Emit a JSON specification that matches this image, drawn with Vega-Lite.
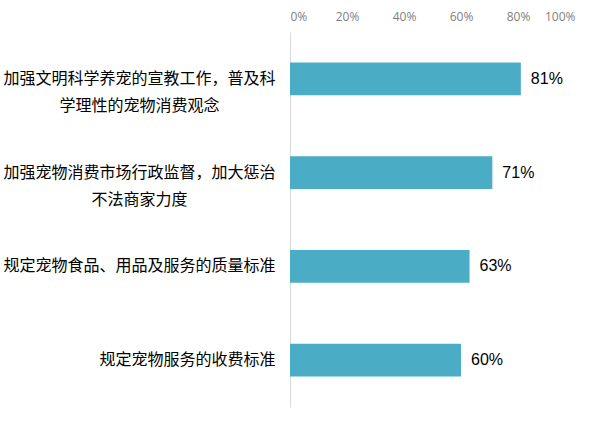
{
  "$schema": "https://vega.github.io/schema/vega-lite/v6.json",
  "autosize": {"type": "none"},
  "padding": {"left": 290, "top": 32, "right": 25, "bottom": 35},
  "width": 285,
  "height": 375,
  "background": "white",
  "data": {
    "values": [
      {"item": "加强文明科学养宠的宣教工作，普及科|学理性的宠物消费观念", "share": 0.81},
      {"item": "加强宠物消费市场行政监督，加大惩治|不法商家力度", "share": 0.71},
      {"item": "规定宠物食品、用品及服务的质量标准", "share": 0.63},
      {"item": "规定宠物服务的收费标准", "share": 0.60}
    ]
  },
  "encoding": {
    "y": {
      "field": "item",
      "type": "nominal",
      "sort": null,
      "title": null,
      "scale": {"paddingInner": 0.65, "paddingOuter": 0.325},
      "axis": {
        "domainColor": "#d9d9d9",
        "ticks": false,
        "labelExpr": "split(datum.value, '|')",
        "labelFont": "Noto Sans CJK SC",
        "labelFontSize": 16,
        "labelColor": "#000000",
        "labelLineHeight": 27,
        "labelLimit": 300,
        "labelAlign": {"condition": {"test": "indexof(datum.value, '|') >= 0", "value": "center"}, "value": "right"},
        "labelPadding": {"condition": {"test": "indexof(datum.value, '|') >= 0", "value": 151}, "value": 15}
      }
    },
    "x": {
      "field": "share",
      "type": "quantitative",
      "title": null,
      "scale": {"domain": [0, 1]},
      "axis": {
        "orient": "top",
        "format": ".0%",
        "values": [0, 0.2, 0.4, 0.6, 0.8, 1],
        "domain": false,
        "ticks": false,
        "grid": false,
        "labelColor": "#808080",
        "labelFont": "Open Sans",
        "labelFontSize": 12,
        "labelPadding": 9
      }
    }
  },
  "layer": [
    {"mark": {"type": "bar", "color": "#4bacc6"}},
    {
      "mark": {"type": "text", "align": "left", "baseline": "middle", "dx": 10, "font": "Liberation Sans", "fontSize": 16, "color": "#000000"},
      "encoding": {"text": {"field": "share", "type": "quantitative", "format": ".0%"}}
    }
  ],
  "config": {"view": {"stroke": null}}
}
